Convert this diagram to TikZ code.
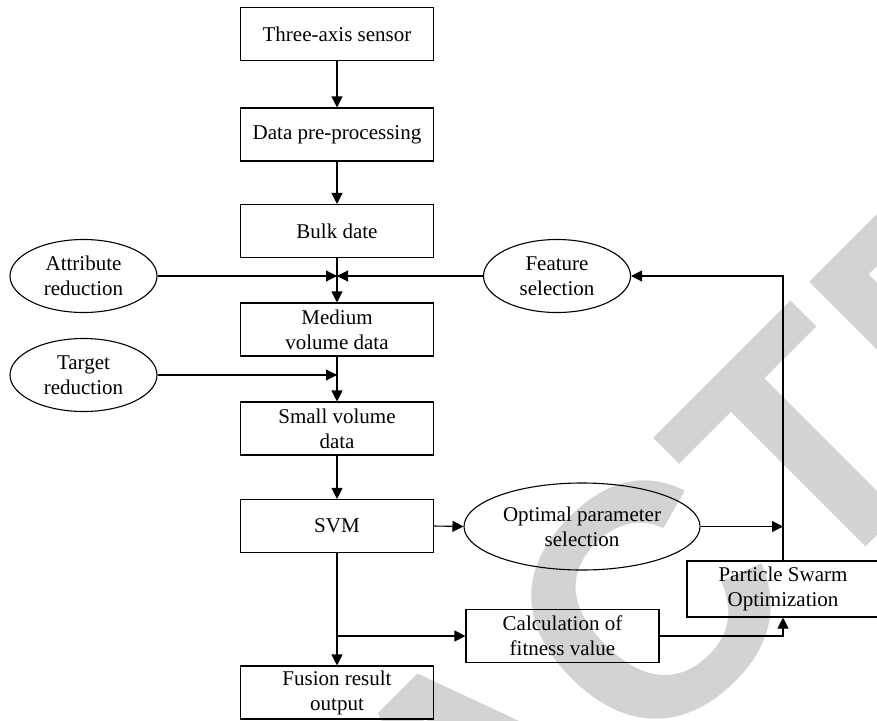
\documentclass[tikz,border=0pt]{standalone}
\usepackage{fontspec}
\setmainfont{Liberation Serif}
\newfontfamily\wmfont{Liberation Sans}
\usetikzlibrary{arrows.meta,shapes.geometric}
\definecolor{wmgray}{RGB}{211,211,211}
\tikzset{
  box/.style={draw, line width=1.1pt, rectangle, inner sep=0pt,
    minimum width=193pt, minimum height=53pt, align=center,
    font=\fontsize{21}{25}\selectfont},
  oval/.style={draw, line width=1.1pt, ellipse, inner sep=0pt,
    minimum width=147pt, minimum height=73pt, align=center,
    font=\fontsize{21}{25}\selectfont},
  link/.style={line width=1.1pt},
  arr/.style={link, -{Triangle[length=11pt,width=11pt]}},
}
\begin{document}
\begin{tikzpicture}[x=1pt, y=-1pt]
\useasboundingbox (0,0) rectangle (877,720);
\clip (0,0) rectangle (877,720);

% background stamp
\node[text=wmgray, rotate=45, inner sep=0pt,
      font=\wmfont\bfseries\fontsize{330}{330}\selectfont] (stamp) at (478.6,773.7) {RETRACTED};

% main column
\node[box] (sensor) at (337,34) {Three-axis sensor};
\node[box] (prep)   at (337,134.5) {Data pre-processing};
\node[box] (bulk)   at (337,231) {Bulk date};
\node[box] (medium) at (337,329.5) {Medium\\volume data};
\node[box] (small)  at (337,428.5) {Small volume\\data};
\node[box] (svm)    at (337,526) {SVM};
\node[box] (fusion) at (337,692.5) {Fusion result\\output};

% side nodes
\node[oval] (attr)   at (83.5,276) {Attribute\\reduction};
\node[oval] (target) at (83.5,375) {Target\\reduction};
\node[oval] (feat)   at (557,276) {Feature\\selection};
\node[oval, minimum width=236pt, minimum height=87pt] (opt) at (582,526.5) {Optimal parameter\\selection};
\node[box, minimum width=192pt, minimum height=56pt] (pso) at (783,589) {Particle Swarm\\Optimization};
\node[box] (calc) at (562.5,636) {Calculation of\\fitness value};

% junction points
\coordinate (j1) at (bulk.south |- attr.east);
\coordinate (j2) at (medium.south |- target.east);
\coordinate (k1) at (pso.north |- feat.east);
\coordinate (k2) at (pso.north |- opt.east);
\coordinate (k3) at (pso.south |- calc.east);
\coordinate (b1) at (svm.south |- calc.west);

% main flow
\draw[arr] (sensor) -- (prep);
\draw[arr] (prep) -- (bulk);
\draw[arr] (bulk) -- (medium);
\draw[arr] (medium) -- (small);
\draw[arr] (small) -- (svm);
\draw[arr] (svm) -- (fusion);

% reductions and feature selection
\draw[arr] (attr.east) -- (j1);
\draw[arr] (feat.west) -- (j1);
\draw[arr] (target.east) -- (j2);

% optimisation loop
\draw[arr] (svm.east) -- (opt.west);
\draw[arr] (opt.east) -- (k2);
\draw[arr] (pso.north) -- (k1) -- (feat.east);
\draw[arr] (calc.east) -- (k3) -- (pso.south);
\draw[arr] (b1) -- (calc.west);
\end{tikzpicture}
\end{document}
